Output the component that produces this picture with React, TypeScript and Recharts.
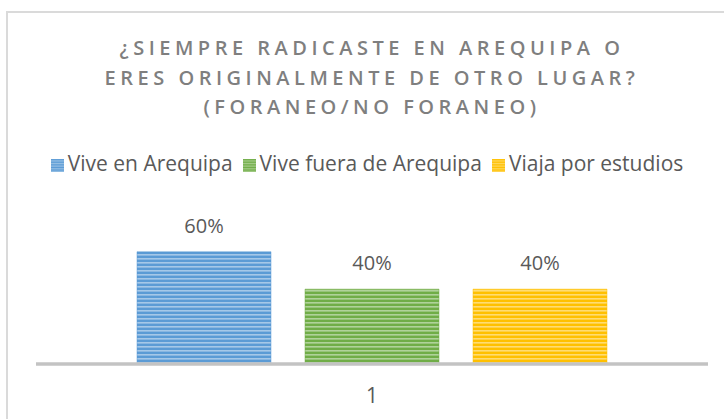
import React from 'react';
import { BarChart, Bar, XAxis, YAxis, Legend, LabelList } from 'recharts';

const categories = ['1'];
const seriesNames = ['Vive en Arequipa', 'Vive fuera de Arequipa', 'Viaja por estudios'];
const viveEnArequipa = [0.6];
const viveFuera = [0.4];
const viajaEstudios = [0.4];
const titleLines = ['¿SIEMPRE RADICASTE EN AREQUIPA O', 'ERES ORIGINALMENTE DE OTRO LUGAR?', '(FORANEO/NO FORANEO)'];

const data = categories.map((c, i) => ({
  name: c,
  a: viveEnArequipa[i],
  b: viveFuera[i],
  c: viajaEstudios[i],
}));

const colors = ['#5b9bd5', '#70ad47', '#ffc000'];
const FONT = '"Open Sans", "Noto Sans", sans-serif';
const pct = (v: any) => `${Math.round(Number(v) * 100)}%`;

export default function App() {
  return (
    <div style={{ position: 'absolute', left: 0, top: 0, width: 724, height: 419, background: '#fff', overflow: 'hidden', fontFamily: FONT }}>
      <div style={{ position: 'absolute', left: 6, top: 11, width: 730, height: 420, border: '2px solid #dadada', boxSizing: 'border-box' }} />
      <div style={{ position: 'absolute', left: 0, top: 33, width: 744, textAlign: 'center', color: '#7f7f7f', fontSize: 20, fontWeight: 600, letterSpacing: 4.5, lineHeight: '29.5px' }}>
        {titleLines.map((t, i) => (
          <div key={i}>{t}</div>
        ))}
      </div>
      <div style={{ position: 'absolute', left: 0, top: 0 }}>
        <BarChart
          width={724}
          height={419}
          data={data}
          margin={{ top: 233, right: 16, bottom: 15, left: 36 }}
          barGap={34}
          barCategoryGap="15%"
        >
          <defs>
            {colors.map((col, i) => (
              <pattern key={i} id={`stripe${i}`} patternUnits="userSpaceOnUse" width={6} height={4}>
                <rect x={0} y={0} width={6} height={4} fill={col} />
                <rect x={0} y={2} width={6} height={1.6} fill="#ffffff" fillOpacity={0.45} />
              </pattern>
            ))}
          </defs>
          <XAxis
            dataKey="name"
            axisLine={{ stroke: '#c3c3c3', strokeWidth: 3.5 }}
            tickLine={false}
            tickMargin={18}
            height={40}
            tick={{ fill: '#595959', fontSize: 21, fontFamily: FONT }}
          />
          <YAxis hide domain={[0, 0.7]} />
          <Legend
            verticalAlign="middle"
            align="center"
            layout="horizontal"
            iconType="square"
            iconSize={13}
            itemSorter="dataKey"
            wrapperStyle={{ top: 149, left: 0, width: 744, fontSize: 21, fontFamily: FONT, color: '#595959' }}
            formatter={(value: any) => <span style={{ color: '#595959' }}>{value}</span>}
          />
          <Bar dataKey="a" name={seriesNames[0]} fill="url(#stripe0)" stroke={colors[0]} strokeWidth={0.5} barSize={134} isAnimationActive={false}>
            <LabelList dataKey="a" position="top" offset={19} formatter={pct} fill="#595959" fontSize={20} fontFamily={FONT} />
          </Bar>
          <Bar dataKey="b" name={seriesNames[1]} fill="url(#stripe1)" stroke={colors[1]} strokeWidth={0.5} barSize={134} isAnimationActive={false}>
            <LabelList dataKey="b" position="top" offset={19} formatter={pct} fill="#595959" fontSize={20} fontFamily={FONT} />
          </Bar>
          <Bar dataKey="c" name={seriesNames[2]} fill="url(#stripe2)" stroke={colors[2]} strokeWidth={0.5} barSize={134} isAnimationActive={false}>
            <LabelList dataKey="c" position="top" offset={19} formatter={pct} fill="#595959" fontSize={20} fontFamily={FONT} />
          </Bar>
        </BarChart>
      </div>
    </div>
  );
}
